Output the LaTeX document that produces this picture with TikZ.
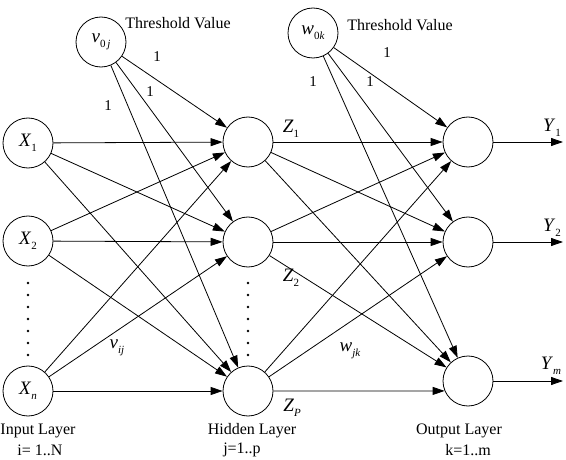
\documentclass[tikz,border=0pt]{standalone}
\usepackage{fontspec}
\setmainfont{Liberation Serif}
\usetikzlibrary{arrows.meta}
\newcommand{\lbl}[2]{\textit{#1}\raisebox{-0.6ex}{\fontsize{11}{11}\selectfont #2}}
\begin{document}
\begin{tikzpicture}[x=1pt,y=-1pt,
  neuron/.style={circle,draw,line width=0.8pt,minimum size=50pt,inner sep=0pt,font=\fontsize{19}{21}\selectfont},
  conn/.style={line width=0.8pt,-{Triangle[length=12pt,width=8pt]}},
  every node/.style={font=\fontsize{16}{19}\selectfont},
  symlabel/.style={font=\fontsize{19}{21}\selectfont},
  wlabel/.style={font=\fontsize{15}{17}\selectfont}]
\useasboundingbox (0,0) rectangle (566,460);
% nodes
\node[neuron] (v0) at (101,42) {\lbl{v}{0\,\textit{j}}};
\node[neuron] (w0) at (313,33) {\lbl{w}{0\textit{k}}};
\node[neuron] (x1) at (28,143) {\lbl{X}{1}};
\node[neuron] (x2) at (28,241) {\lbl{X}{2}};
\node[neuron] (xn) at (28,391) {\lbl{X}{\textit{n}}};
\node[neuron] (h1) at (248,142) {};
\node[neuron] (h2) at (248,242) {};
\node[neuron] (hp) at (248,391) {};
\node[neuron] (o1) at (468,142) {};
\node[neuron] (o2) at (468,242) {};
\node[neuron] (om) at (468,381) {};
\coordinate (y1) at (563,142);
\coordinate (y2) at (563,242);
\coordinate (ym) at (563,381);
% input to hidden
\foreach \i in {x1,x2,xn}{
  \foreach \j in {h1,h2,hp}{
    \draw[conn] (\i) -- (\j);
  }
}
% hidden to output
\foreach \j in {h1,h2}{
  \foreach \k in {o1,o2,om}{
    \draw[conn] (\j) -- (\k);
  }
}
\draw[conn] (hp) -- (o1);
\draw[conn] (hp) -- (o2);
\draw[conn] (hp.east) -- (om.203.6);
% thresholds
\draw[conn] (v0) -- (h1);
\draw[conn] (v0) -- (h2);
\draw[conn] (v0) -- (hp);
\draw[conn] (w0) -- (o1);
\draw[conn] (w0) -- (o2);
\draw[conn] (w0) -- (om);
% outputs
\draw[conn] (o1) -- (y1);
\draw[conn] (o2) -- (y2);
\draw[conn] (om) -- (ym);
% dots
\foreach \yy in {283,295,...,355}{
  \fill (28,\yy) circle (1.3pt);
  \fill (248,\yy) circle (1.3pt);
}
% labels
\node (tv1) at (178,23) {Threshold Value};
\node (tv2) at (400,25) {Threshold Value};
\node[wlabel] (l1) at (157,57) {1};
\node[wlabel] (l2) at (150,92) {1};
\node[wlabel] (l3) at (108,106) {1};
\node[wlabel] (l4) at (387,53) {1};
\node[wlabel] (l5) at (370,82) {1};
\node[wlabel] (l6) at (313,82) {1};
\node[symlabel] (z1) at (291,129) {\lbl{Z}{1}};
\node[symlabel] (z2) at (291,278) {\lbl{Z}{2}};
\node[symlabel] (zp) at (292,408) {\lbl{Z}{\textit{P}}};
\node[symlabel] (vij) at (117,348) {\lbl{v}{\textit{ij}}};
\node[symlabel] (wjk) at (350,351) {\lbl{w}{\textit{jk}}};
\node[symlabel] (ly1) at (552,128) {\lbl{Y}{1}};
\node[symlabel] (ly2) at (552,228) {\lbl{Y}{2}};
\node[symlabel] (lym) at (551,366) {\lbl{Y}{\textit{m}}};
\node (il) at (38,431) {Input Layer};
\node (ii) at (40,450) {i= 1..N};
\node (hl) at (252,431) {Hidden Layer};
\node (hj) at (242,450) {j=1..p};
\node (ol) at (459,431) {Output Layer};
\node (ok) at (468,450) {k=1..m};
\end{tikzpicture}
\end{document}
